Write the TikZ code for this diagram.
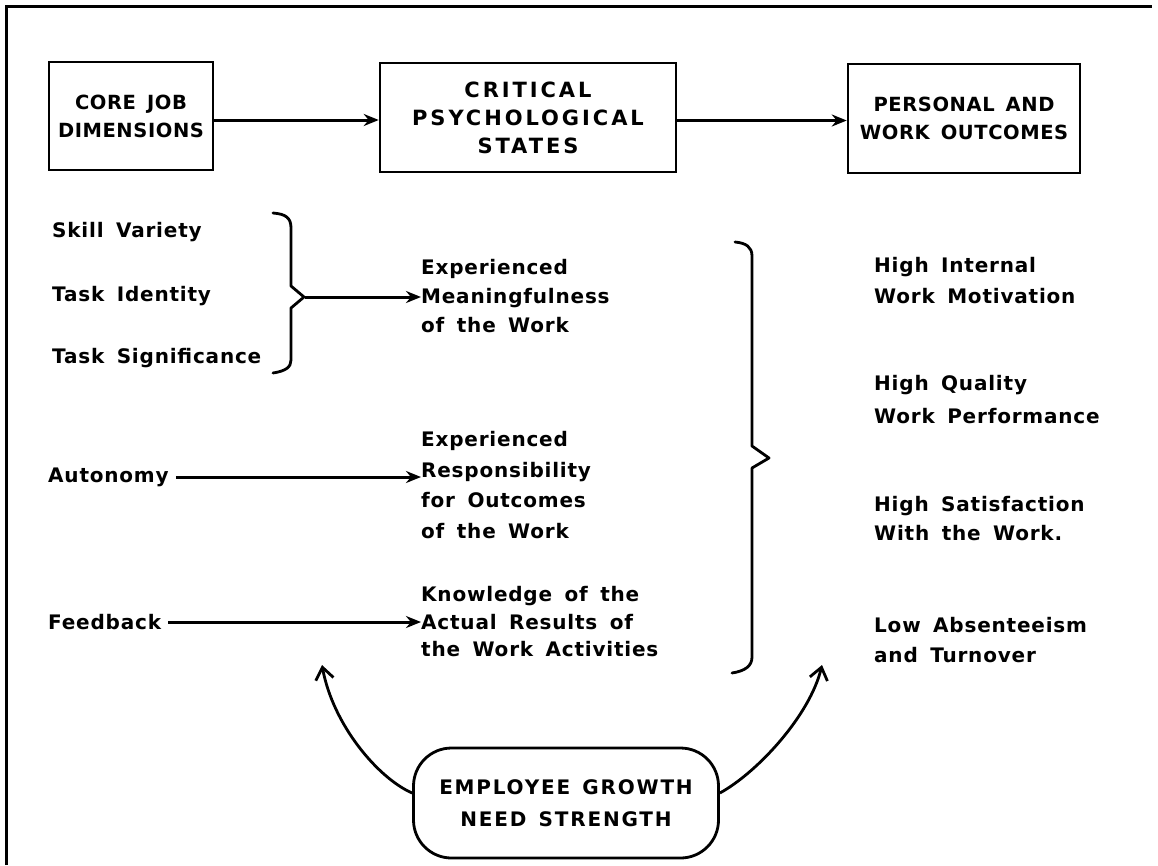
\documentclass[tikz,border=0pt]{standalone}
\usepackage{fontspec}
\setmainfont{DejaVu Sans}
\newfontfamily\lblfont[LetterSpace=4,WordSpace=1.6]{DejaVu Sans}
\newfontfamily\boxfont[LetterSpace=3,WordSpace=1.5]{DejaVu Sans}
\newfontfamily\wideboxfont[LetterSpace=14]{DejaVu Sans}
\newfontfamily\egnfont[LetterSpace=9,WordSpace=1.4]{DejaVu Sans}
\usetikzlibrary{arrows.meta}
\begin{document}
\begin{tikzpicture}[x=1pt,y=-1pt,
  every node/.style={inner sep=0pt},
  hbox/.style={draw, line width=2.5pt, align=center, font=\boxfont\bfseries\fontsize{19.5}{28}\selectfont},
  lbl/.style={anchor=west, align=left, font=\lblfont\bfseries\fontsize{20}{29}\selectfont},
  arr/.style={line width=3pt, -{Stealth[length=15pt,width=12pt]}},
  carr/.style={line width=2.8pt, -{Straight Barb[length=12pt,width=18pt]}},
  bracepath/.style={line width=2.8pt, line join=round, line cap=round}]
\useasboundingbox (0,0) rectangle (1158,865);
% frame
\draw[line width=3pt] (6,865) -- (6,6) -- (1152,6);
% header boxes
\node[hbox, minimum width=164, minimum height=108] (b1) at (131,116) {CORE JOB\\DIMENSIONS};
\node[hbox, minimum width=296, minimum height=109, font=\wideboxfont\bfseries\fontsize{21}{28}\selectfont] (b2) at (528,117.5) {CRITICAL\\PSYCHOLOGICAL\\STATES};
\node[hbox, minimum width=232, minimum height=109] (b3) at (964,118.5) {PERSONAL AND\\WORK OUTCOMES};
\draw[arr] ([yshift=-4]b1.east) -- ([yshift=-4]b1.east -| b2.west);
\draw[arr] ([yshift=-3]b2.east) -- ([yshift=-3]b2.east -| b3.west);
% core job dimensions
\node[lbl] (sv) at (52,232) {Skill Variety};
\node[lbl] (ti) at (52,296) {Task Identity};
\node[lbl] (ts) at (52,358) {Task Significance};
\draw[bracepath] (273,213) .. controls (286,214) and (291,218) .. (291,228) -- (291,286) -- (304,297) -- (291,308) -- (291,360) .. controls (291,367) and (286,371) .. (273,373);
\coordinate (btip) at (305,297);
% critical states
\node[lbl] (mean) at (421,296) {Experienced\\Meaningfulness\\of the Work};
\draw[arr] (btip) -- (btip -| mean.west);
\node[lbl] (aut) at (48,477) {Autonomy};
\node[lbl, font=\lblfont\bfseries\fontsize{20}{30.5}\selectfont] (resp) at (421,485) {Experienced\\Responsibility\\for Outcomes\\of the Work};
\draw[arr] ([xshift=7]aut.east) -- (aut.east -| resp.west);
\node[lbl] (fb) at (48,622) {Feedback};
\node[lbl, font=\lblfont\bfseries\fontsize{20}{27.5}\selectfont] (know) at (421,622) {Knowledge of the\\Actual Results of\\the Work Activities};
\draw[arr] ([xshift=7]fb.east) -- (fb.east -| know.west);
% right brace
\draw[bracepath] (735,242) .. controls (746,243) and (752,247) .. (752,256) -- (752,446) -- (769,458) -- (752,468) -- (752,657) .. controls (752,666) and (745,671) .. (732,673);
% outcomes
\node[lbl, font=\lblfont\bfseries\fontsize{20}{31}\selectfont] (o1) at (874,281) {High Internal\\Work Motivation};
\node[lbl, font=\lblfont\bfseries\fontsize{20}{33}\selectfont] (o2) at (874,400) {High Quality\\Work Performance};
\node[lbl, font=\lblfont\bfseries\fontsize{20}{29}\selectfont] (o3) at (874,519) {High Satisfaction\\With the Work.};
\node[lbl, font=\lblfont\bfseries\fontsize{20}{30}\selectfont] (o4) at (874,640) {Low Absenteeism\\and Turnover};
% growth need strength
\node[draw, line width=2.8pt, rounded corners=38pt, minimum width=305, minimum height=110, align=center, font=\egnfont\bfseries\fontsize{20}{32}\selectfont] (egn) at (566,803) {EMPLOYEE GROWTH\\NEED STRENGTH};
\coordinate (tipL) at (322,665);
\coordinate (tipR) at (822,665);
\draw[carr] ([yshift=10]egn.west) .. controls (378,778) and (333,725) .. (tipL);
\draw[carr] ([yshift=10]egn.east) .. controls (758,772) and (810,715) .. (tipR);
\end{tikzpicture}
\end{document}
